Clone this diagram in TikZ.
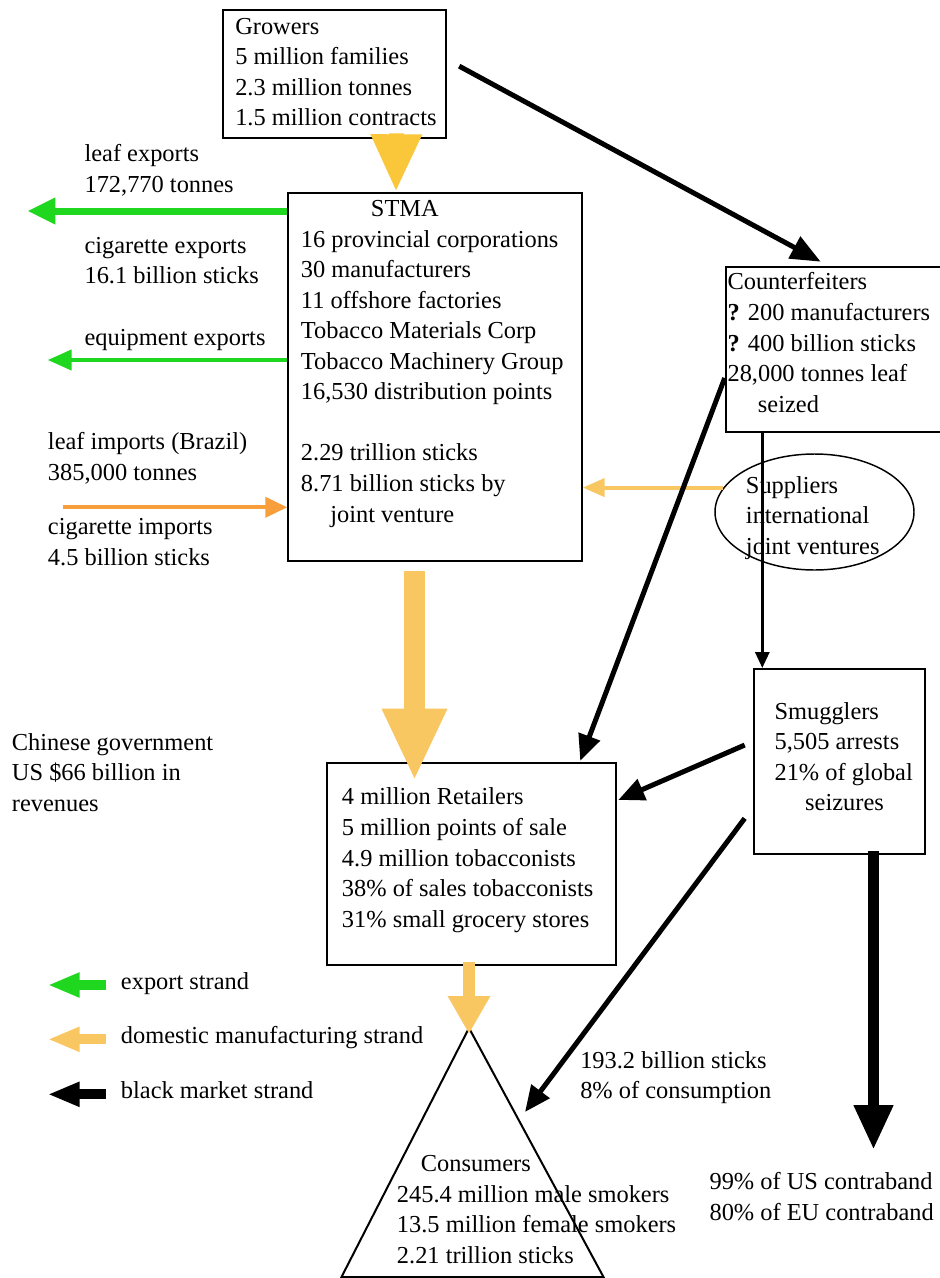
\documentclass[tikz,border=0pt]{standalone}
\usepackage{fontspec}
\setmainfont{Liberation Serif}
\usetikzlibrary{arrows.meta,calc,fit,shapes.geometric}

\definecolor{exportgreen}{RGB}{30,215,30}
\definecolor{growyellow}{RGB}{250,199,58}
\definecolor{domyellow}{RGB}{249,199,98}
\definecolor{importorange}{RGB}{248,158,58}

\tikzset{
  box/.style={draw,line width=1.5pt,inner sep=0pt},
  txt/.style={inner sep=0pt,anchor=base west,align=left},
  flow/.style n args={3}{line width=#1,-{Triangle[length=#2,width=#3]}}
}

\begin{document}
\begin{tikzpicture}[x=0.75pt,y=-0.75pt,font={\fontsize{18.3pt}{22.9pt}\selectfont}]
\useasboundingbox (0,0) rectangle (939,1278);

\node[txt] (growtxt) at (235,125.6) {Growers\\5 million families\\2.3 million tonnes\\1.5 million contracts};
\node[txt] (stmatxt) at (300.7,522) {\hspace*{52.5pt}STMA\\16 provincial corporations\\30 manufacturers\\11 offshore factories\\Tobacco Materials Corp\\Tobacco Machinery Group\\16,530 distribution points\\[22.9pt]2.29 trillion sticks\\8.71 billion sticks by\\\hspace*{22pt}joint venture};
\node[txt] (rettxt) at (341.7,927.1) {4 million Retailers\\5 million points of sale\\4.9 million tobacconists\\38\% of sales tobacconists\\31\% small grocery stores};
\node[txt] (cfeittxt) at (727.3,412.1) {Counterfeiters\\\textbf{?} 200 manufacturers\\\textbf{?} 400 billion sticks\\28,000 tonnes leaf\\\hspace*{22.8pt}seized};
\node[txt] (supptxt) at (745.7,554.4) {Suppliers\\international\\joint ventures};
\node[txt] (smugtxt) at (774.3,810.9) {Smugglers\\5,505 arrests\\21\% of global\\\hspace*{23pt}seizures};
\node[txt] (constxt) at (396.7,1263.3) {\hspace*{18pt}Consumers\\245.4 million male smokers\\13.5 million female smokers\\2.21 trillion sticks};
\node[txt] (leafexp) at (84.3,192.2) {leaf exports\\172,770 tonnes};
\node[txt] (cigexp) at (84.3,283.8) {cigarette exports\\16.1 billion sticks};
\node[txt] (equipexp) at (84.3,345) {equipment exports};
\node[txt] (leafimp) at (47.7,480.5) {leaf imports (Brazil)\\385,000 tonnes};
\node[txt] (cigimp) at (47.7,565.5) {cigarette imports\\4.5 billion sticks};
\node[txt] (govt) at (11.7,811.1) {Chinese government\\US \$66 billion in\\revenues};
\node[txt] (blackvol) at (580,1098.8) {193.2 billion sticks\\8\% of consumption};
\node[txt] (contra) at (709.3,1220.5) {99\% of US contraband\\80\% of EU contraband};
\node[txt] (lgexptxt) at (120.7,989.3) {export strand};
\node[txt] (lgdomtxt) at (120.7,1043) {domestic manufacturing strand};
\node[txt] (lgblktxt) at (120.7,1098.3) {black market strand};

\node[box,fit={(223,10) (445.7,138.3)}] (grow) {};
\node[box,fit={(288.3,193.3) (581.7,561)}] (stma) {};
\node[box,fit={(327.3,763.3) (615.7,965)}] (ret) {};
\node[box,fit={(725.7,266.7) (945,432.3)}] (cfeit) {};
\node[box,fit={(754,669) (925,854.3)}] (smug) {};
\node[ellipse,draw,line width=1.1pt,inner sep=0pt,minimum width=149.25pt,minimum height=87pt] (supp) at (814.5,512) {};

\coordinate (apex) at (469,1028);
\coordinate (consleft) at (341.5,1277);
\coordinate (consright) at (603.5,1277);
\draw[line width=1.5pt] (apex) -- (consright) -- (consleft) -- cycle;

\coordinate (constip) at (525,1112);
\coordinate (sinkend) at (873.5,1150);
\coordinate (leafend) at (27.3,211);
\coordinate (equipend) at (47.7,360);
\coordinate (impstart) at (63.3,507.3);

\draw[flow={11.25pt}{43.5pt}{35.25pt},growyellow] ($(grow.south)+(62,-6)$) -- ($(stma.north)+(-39,0)$);
\draw[flow={15.5pt}{54pt}{45pt},domyellow] ($(stma.south)+(-20.5,9)$) -- ($(ret.north)+(-57,18.4)$);
\draw[flow={9pt}{28.5pt}{30pt},domyellow] ($(ret.south -| apex)+(0,-4)$) -- ($(apex)+(0,6)$);
\draw[flow={3pt}{16.5pt}{13.5pt},domyellow] (supp.165) -- (supp.165 -| stma.east);

\draw[flow={5.25pt}{21pt}{18.75pt},exportgreen] (leafend -| stma.west) -- (leafend);
\draw[flow={3.25pt}{18pt}{15pt},exportgreen] (equipend -| stma.west) -- (equipend);
\draw[flow={3pt}{16.5pt}{15pt},importorange] (impstart) -- (impstart -| stma.west);

\draw[flow={3.75pt}{22.5pt}{18pt}] ($(grow.east)+(12.5,-8)$) -- ($(cfeit.north west)+(96,-4)$);
\draw[flow={3.75pt}{19.5pt}{16.5pt}] ($(cfeit.west)+(0,28.5)$) -- ($(ret.north east)+(-36.5,-1.5)$);
\draw[flow={2.25pt}{12pt}{10.5pt}] ($(cfeit.south west)+(37.6,0)$) -- ($(smug.north west)+(9.3,0)$);
\draw[flow={3.75pt}{19.5pt}{16.5pt}] ($(smug.west)+(-8.3,-16.6)$) -- ($(ret.east)+(1.6,-64.2)$);
\draw[flow={3.75pt}{19.5pt}{16.5pt}] ($(smug.west)+(-8.3,56.7)$) -- (constip);
\draw[flow={8.75pt}{33.75pt}{27.5pt}] ($(smug.south)+(34,-4)$) -- (sinkend);

\coordinate (lgexport) at (106,985);
\coordinate (lgdomestic) at (106,1039.3);
\coordinate (lgblack) at (106,1094.3);
\draw[flow={7.5pt}{24pt}{17.25pt},exportgreen] (lgexport) -- ++(-58.3,0);
\draw[flow={7.5pt}{24pt}{17.25pt},domyellow] (lgdomestic) -- ++(-58.3,0);
\draw[flow={7.5pt}{24pt}{17.25pt}] (lgblack) -- ++(-58.3,0);
\end{tikzpicture}
\end{document}
